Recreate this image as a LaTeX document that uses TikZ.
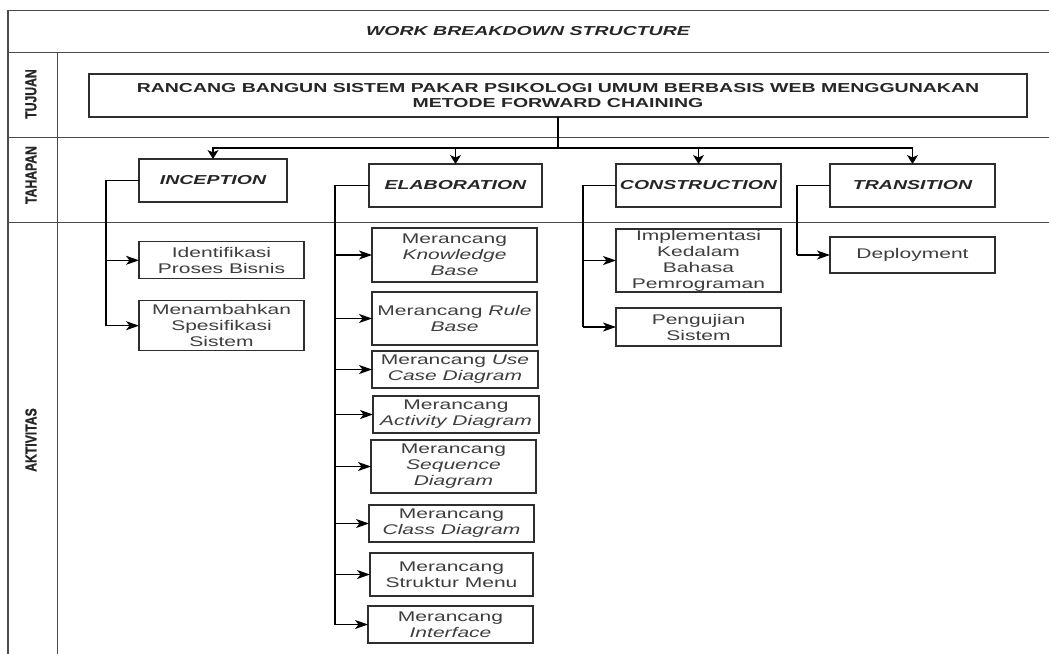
\documentclass[tikz,border=0pt]{standalone}
\usepackage{fontspec}
\usepackage{graphicx}
\setmainfont{Liberation Sans}
\newfontfamily\widesans[FakeStretch=1.5]{Liberation Sans}
\newfontfamily\lanesans[FakeBold=1.2]{Liberation Sans Bold}
\usetikzlibrary{arrows.meta}
\definecolor{frameline}{HTML}{4A4A4A}
\definecolor{boxline}{HTML}{2E2E2E}
\definecolor{darktext}{HTML}{262626}
\definecolor{softtext}{HTML}{3E3E3E}
% lane captions: heavy, glyphs drawn taller than they are wide
\newcommand{\lanecaption}[1]{\scalebox{1}[1.3]{\lanesans\fontsize{12.2}{14}\selectfont #1}}
\tikzset{
  frame/.style={draw=frameline, line width=1.1pt},
  wh/.style 2 args={minimum width=#1pt, minimum height=#2pt},
  box/.style={draw=boxline, line width=1.3pt, inner sep=0pt, outer sep=0pt,
    align=center, fill=white},
  goalbox/.style={box, text=darktext,
    font=\widesans\bfseries\fontsize{13}{15}\selectfont},
  stagebox/.style={box, text=darktext,
    font=\widesans\bfseries\itshape\fontsize{13}{15}\selectfont},
  taskbox/.style={box, text=softtext,
    font=\widesans\fontsize{14}{16}\selectfont},
  sidelabel/.style={rotate=90, text=darktext, inner sep=0pt},
  titlelabel/.style={text=darktext, inner sep=0pt,
    font=\widesans\bfseries\itshape\fontsize{13}{15}\selectfont},
  link/.style={draw=black, line width=1.1pt},
  harrow/.style={link, -{Stealth[length=13pt, width=9pt, inset=3.5pt]}},
  varrow/.style={link, -{Stealth[length=9pt, width=11pt, inset=2.5pt]}},
}
\begin{document}
\begin{tikzpicture}[x=1pt, y=-1pt]
\useasboundingbox (0,0) rectangle (1049,653);

% table frame: title row, three swimlanes and the label column
\draw[frame] (1060,10.7) -- (8,10.7) -- (8,670);
\draw[frame] (8,52.7) -- (1060,52.7);
\draw[frame] (8,137.5) -- (1060,137.5);
\draw[frame] (8,222.7) -- (1060,222.7);
\draw[frame] (57.3,52.7) -- (57.3,670);

\node[titlelabel] (title) at (528,31) {WORK BREAKDOWN STRUCTURE};
\node[sidelabel] (lbltujuan) at (31,94) {\lanecaption{TUJUAN}};
\node[sidelabel] (lbltahapan) at (31,175) {\lanecaption{TAHAPAN}};
\node[sidelabel] (lblaktivitas) at (31,440) {\lanecaption{AKTIVITAS}};

% goal
\node[goalbox, wh={938}{43}] (goal) at (558,95.5)
  {RANCANG BANGUN SISTEM PAKAR PSIKOLOGI UMUM BERBASIS WEB MENGGUNAKAN\\
   METODE FORWARD CHAINING};

% phases
\node[stagebox, wh={148}{43}] (incep) at (213,180.5) {INCEPTION};
\node[stagebox, wh={173}{43}] (elab) at (455.5,185.5) {ELABORATION};
\node[stagebox, wh={165}{43}] (cons) at (698.5,185.5) {CONSTRUCTION};
\node[stagebox, wh={165}{43}] (trans) at (912.5,185.5) {TRANSITION};

% inception activities
\node[taskbox, wh={165}{37}] (ident) at (221.5,260.3) {Identifikasi\\Proses Bisnis};
\node[taskbox, wh={165}{50}] (spek) at (221.5,325.7) {Menambahkan\\Spesifikasi\\Sistem};

% elaboration activities
\node[taskbox, wh={165}{54}] (kb) at (454.5,255) {Merancang\\\textit{Knowledge}\\\textit{Base}};
\node[taskbox, wh={165}{53}] (rb) at (454.5,318.5) {Merancang \textit{Rule}\\\textit{Base}};
\node[taskbox, wh={166}{37}] (ucd) at (455,369.5) {Merancang \textit{Use}\\\textit{Case Diagram}};
\node[taskbox, wh={166}{37}] (actd) at (456,414.5) {Merancang\\\textit{Activity Diagram}};
\node[taskbox, wh={165}{53}] (seqd) at (453.5,466.5) {Merancang\\\textit{Sequence}\\\textit{Diagram}};
\node[taskbox, wh={165}{37}] (clsd) at (451.5,523.5) {Merancang\\\textit{Class Diagram}};
\node[taskbox, wh={163}{43}] (menu) at (451.5,574.5) {Merancang\\Struktur Menu};
\node[taskbox, wh={165}{37}] (iface) at (450.5,624.5) {Merancang\\\textit{Interface}};

% construction activities
\node[taskbox, wh={165}{63}] (impl) at (698.5,260.5) {Implementasi\\Kedalam\\Bahasa\\Pemrograman};
\node[taskbox, wh={165}{38}] (uji) at (698.5,327) {Pengujian\\Sistem};

% transition activities
\node[taskbox, wh={165}{36}] (deploy) at (912.5,255) {Deployment};

% goal to phases
\coordinate (hub) at (558,148);
\draw[link] (goal.south) -- (goal.south |- hub);
\draw[varrow] (goal.south |- hub) -| (incep.north);
\draw[varrow] (goal.south |- hub) -| (elab.north);
\draw[varrow] (goal.south |- hub) -| (cons.north);
\draw[varrow] (goal.south |- hub) -| (trans.north);

% phase buses
\coordinate (ibus) at (106,0);
\coordinate (ebus) at (335,0);
\coordinate (cbus) at (583,0);
\coordinate (tbus) at (797,0);

\draw[link] (incep.west) -| (ibus |- spek.west);
\foreach \t in {ident,spek}
  \draw[harrow] (ibus |- \t.west) -- (\t.west);

\draw[link] (elab.west) -| (ebus |- iface.west);
\foreach \t in {kb,rb,ucd,actd,seqd,clsd,menu,iface}
  \draw[harrow] (ebus |- \t.west) -- (\t.west);

\draw[link] (cons.west) -| (cbus |- uji.west);
\foreach \t in {impl,uji}
  \draw[harrow] (cbus |- \t.west) -- (\t.west);

\draw[link] (trans.west) -| (tbus |- deploy.west);
\draw[harrow] (tbus |- deploy.west) -- (deploy.west);
\end{tikzpicture}
\end{document}
